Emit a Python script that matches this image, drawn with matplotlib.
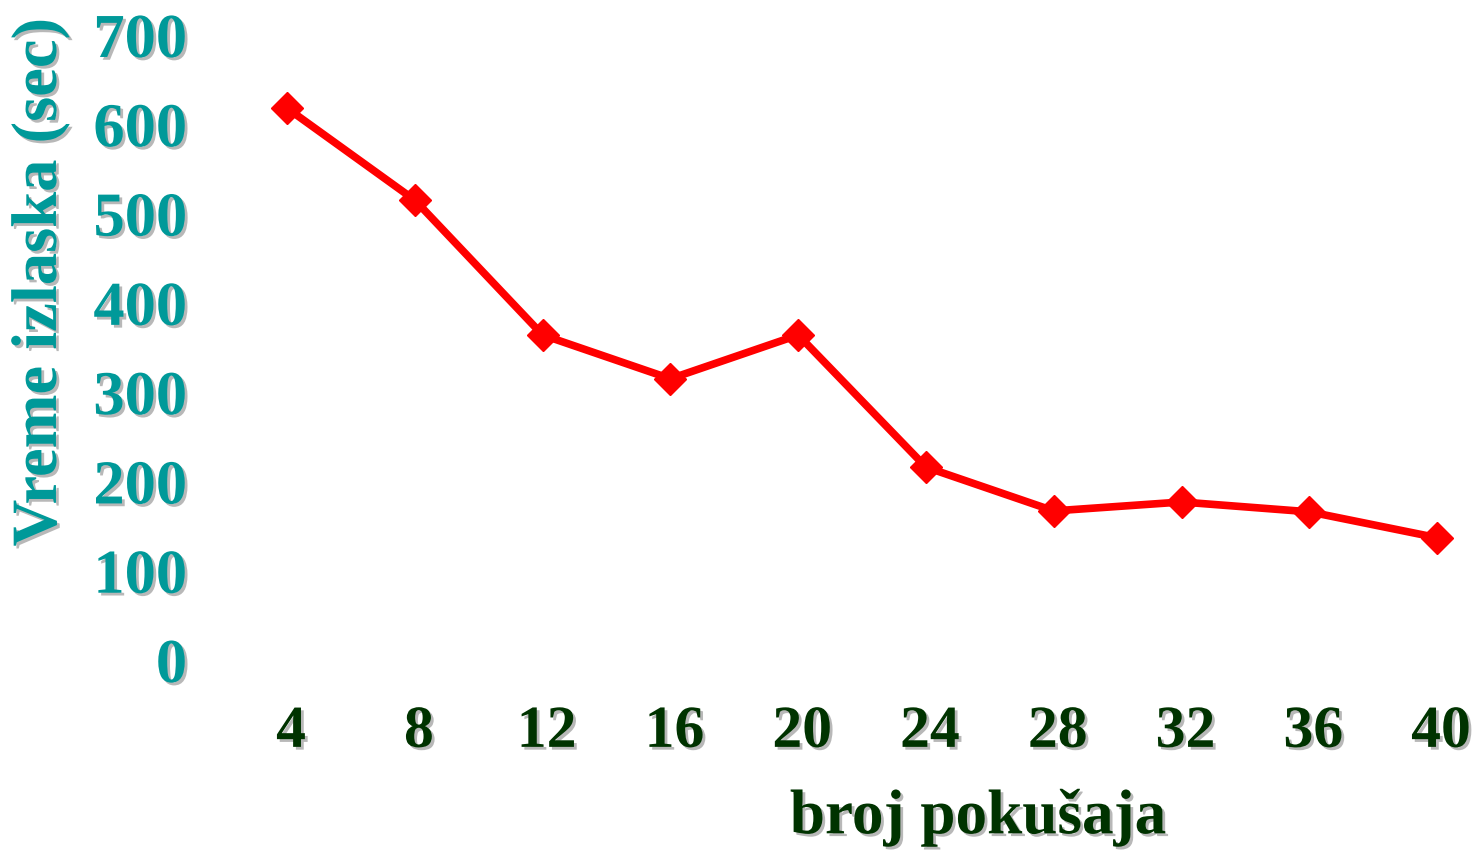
import matplotlib.pyplot as plt
import matplotlib.patheffects as pe
import matplotlib.transforms as mtransforms

# broj pokusaja vs vreme izlaska
pokusaji = ['4', '8', '12', '16', '20', '24', '28', '32', '36', '40']
vreme = [618, 515, 364, 315, 364, 216, 167, 177, 166, 137]
y_ticks = [0, 100, 200, 300, 400, 500, 600, 700]

TEAL = '#009999'
DGREEN = '#003300'

senka = [pe.SimplePatchShadow(offset=(2, -2), shadow_rgbFace='#b8b8b8', alpha=1.0), pe.Normal()]

plt.rcParams['font.family'] = 'Liberation Serif'
plt.rcParams['font.weight'] = 'bold'

fig = plt.figure(figsize=(14.8, 8.51), dpi=100)
ax = fig.add_axes([0.194, 0.2244, 0.777, 0.7345])

x = list(range(len(pokusaji)))
ax.plot(x, vreme, color='red', linewidth=5.5, marker='D', markersize=16,
        markeredgecolor='red', clip_on=False, solid_joinstyle='round')

ax.set_xlim(0, len(pokusaji) - 1)
ax.set_ylim(0, 700)
ax.set_xticks(x)
ax.set_xticklabels(pokusaji)
ax.set_yticks(y_ticks)

for s in ax.spines.values():
    s.set_visible(False)
ax.tick_params(axis='both', length=0)
ax.tick_params(axis='x', pad=33, labelsize=43, labelcolor=DGREEN)
ax.tick_params(axis='y', pad=72, labelsize=45, labelcolor=TEAL)

# x oznake su malo pomerene udesno
pomak = mtransforms.ScaledTranslation(4 / 100, 0, fig.dpi_scale_trans)
for t in ax.get_xticklabels():
    t.set_transform(t.get_transform() + pomak)
for t in ax.get_xticklabels() + ax.get_yticklabels():
    t.set_fontweight('bold')
    t.set_path_effects(senka)

fig.text(0.661, 0.039, 'broj pokušaja', color=DGREEN, fontsize=45.5,
         fontweight='bold', ha='center', va='center', path_effects=senka)
fig.text(0.027, 0.669, 'Vreme izlaska (sec)', color=TEAL, fontsize=46.5,
         fontweight='bold', ha='center', va='center', rotation=90, path_effects=senka)

fig.savefig('out.png', dpi=100)
